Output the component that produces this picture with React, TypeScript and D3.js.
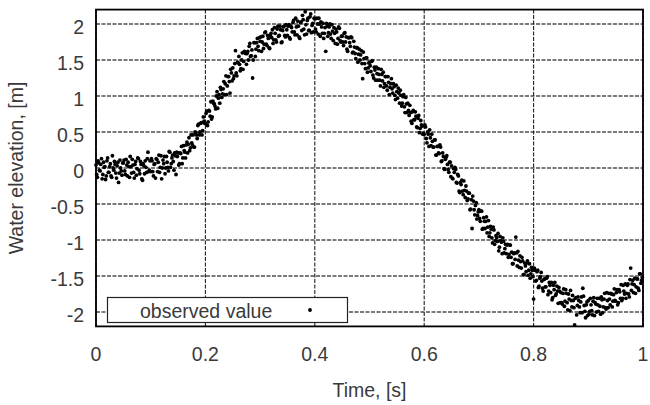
import React from "react";
import * as d3 from "d3";

// Water elevation record, one reading every SAMPLE_STEP seconds (each row spans 0.05 s)
const SAMPLE_STEP = 0.00125;
const elevation: number[] = [
  0.04, -0.09, -0.13, 0.1, 0.07, -0.03, -0.04, 0.05, 0.13, -0.15, -0.09, 0.08, 0.01, 0.02, -0.16, -0.11, 0.1, 0.14, -0.06, -0.06, 0.02, 0.06, -0.11, -0.13, 0.17, 0.0, -0.03, 0.09, 0.05, -0.07, -0.14, 0.03, 0.08, -0.2, -0.07, 0.11, 0.0, -0.04, -0.1, 0.07,
  0.07, 0.11, -0.04, -0.09, 0.12, 0.04, -0.11, 0.08, 0.02, -0.13, 0.16, 0.02, -0.07, 0.12, 0.04, -0.06, -0.14, 0.05, 0.09, -0.1, -0.01, 0.14, 0.13, -0.03, -0.08, 0.09, 0.05, -0.15, -0.17, 0.06, 0.03, -0.08, 0.1, 0.01, -0.06, 0.13, 0.22, -0.05, -0.03, 0.1,
  -0.05, 0.13, 0.1, -0.05, -0.11, 0.05, 0.06, -0.14, 0.13, 0.12, -0.05, 0.08, 0.18, -0.06, 0.01, 0.17, -0.15, 0.0, 0.11, 0.06, 0.16, -0.08, 0.0, 0.16, 0.08, 0.01, -0.04, 0.23, 0.22, 0.01, 0.06, 0.14, 0.18, 0.09, -0.03, 0.21, 0.17, -0.09, 0.22, 0.16,
  0.21, 0.04, 0.06, 0.21, 0.2, 0.3, 0.06, 0.14, 0.31, 0.24, 0.22, 0.14, 0.32, 0.36, 0.21, 0.33, 0.42, 0.24, 0.28, 0.46, 0.35, 0.32, 0.46, 0.29, 0.29, 0.5, 0.49, 0.46, 0.41, 0.59, 0.61, 0.46, 0.5, 0.62, 0.63, 0.46, 0.52, 0.71, 0.65, 0.62,
  0.62, 0.76, 0.79, 0.59, 0.64, 0.8, 0.79, 0.72, 0.92, 0.68, 0.71, 0.93, 0.9, 0.89, 0.86, 0.82, 1.0, 1.06, 0.83, 0.97, 1.02, 0.9, 1.12, 1.09, 0.98, 1.03, 1.1, 1.2, 1.02, 1.17, 1.28, 1.02, 1.14, 1.27, 1.27, 1.2, 1.04, 1.37, 1.32, 1.21,
  1.39, 1.24, 1.28, 1.45, 1.63, 1.32, 1.28, 1.47, 1.46, 1.55, 1.44, 1.35, 1.38, 1.5, 1.6, 1.37, 1.48, 1.62, 1.6, 1.59, 1.44, 1.59, 1.62, 1.5, 1.69, 1.73, 1.55, 1.56, 1.64, 1.25, 1.5, 1.74, 1.74, 1.55, 1.65, 1.74, 1.8, 1.69, 1.63, 1.81,
  1.76, 1.82, 1.62, 1.75, 1.83, 1.66, 1.72, 1.88, 1.89, 1.72, 1.7, 1.84, 1.8, 1.67, 1.66, 1.84, 1.87, 1.81, 1.92, 1.73, 1.78, 1.95, 1.87, 1.78, 1.75, 1.93, 1.97, 1.83, 1.84, 1.97, 1.92, 1.74, 1.75, 1.91, 1.96, 1.97, 1.84, 1.82, 1.99, 1.92,
  1.84, 1.97, 1.99, 1.81, 1.79, 1.97, 1.95, 1.89, 2.02, 2.05, 1.89, 1.85, 2.08, 1.96, 1.85, 2.04, 1.97, 1.82, 1.8, 2.02, 2.03, 1.91, 2.12, 2.06, 1.93, 1.85, 2.17, 1.99, 1.86, 2.05, 2.08, 1.91, 1.91, 2.1, 2.14, 1.88, 1.98, 2.01, 1.89, 2.08,
  2.07, 1.93, 1.89, 2.08, 2.0, 1.86, 2.08, 2.0, 1.83, 2.03, 1.96, 1.87, 2.01, 1.8, 1.87, 1.95, 1.62, 2.01, 1.97, 1.83, 1.88, 1.96, 2.0, 1.86, 1.8, 1.99, 1.9, 1.77, 1.95, 1.87, 1.73, 1.93, 1.89, 1.72, 1.8, 1.96, 1.94, 1.77, 1.75, 1.83,
  1.83, 1.75, 1.7, 1.87, 1.88, 1.75, 1.82, 1.65, 1.62, 1.81, 1.81, 1.74, 1.69, 1.82, 1.81, 1.6, 1.61, 1.76, 1.68, 1.59, 1.52, 1.67, 1.67, 1.47, 1.58, 1.65, 1.5, 1.57, 1.63, 1.45, 1.24, 1.61, 1.52, 1.45, 1.38, 1.53, 1.53, 1.33, 1.39, 1.46,
  1.47, 1.42, 1.34, 1.48, 1.49, 1.29, 1.25, 1.4, 1.36, 1.22, 1.4, 1.31, 1.22, 1.38, 1.3, 1.22, 1.14, 1.37, 1.3, 1.21, 1.33, 1.12, 1.17, 1.27, 1.27, 1.14, 1.08, 1.27, 1.19, 1.02, 1.12, 1.17, 1.24, 1.1, 1.04, 1.17, 1.13, 1.01, 0.95, 1.15,
  1.06, 0.97, 1.11, 1.04, 0.9, 1.08, 1.01, 0.86, 0.9, 0.99, 1.02, 0.85, 0.77, 0.98, 0.89, 0.77, 0.9, 0.8, 0.73, 0.87, 0.77, 0.65, 0.62, 0.78, 0.8, 0.67, 0.67, 0.78, 0.72, 0.57, 0.56, 0.69, 0.73, 0.49, 0.55, 0.66, 0.6, 0.58, 0.47, 0.48,
  0.47, 0.6, 0.57, 0.41, 0.35, 0.5, 0.47, 0.3, 0.53, 0.42, 0.31, 0.47, 0.37, 0.29, 0.29, 0.39, 0.39, 0.18, 0.18, 0.3, 0.3, 0.21, 0.2, 0.32, 0.29, 0.09, 0.1, 0.21, 0.16, -0.01, -0.02, 0.12, 0.15, 0.17, 0.05, -0.02, -0.06, 0.08, 0.08, -0.12,
  0.03, -0.14, -0.15, -0.01, -0.06, 0.01, -0.02, -0.2, -0.21, -0.09, -0.11, -0.32, -0.34, -0.2, -0.23, -0.17, -0.32, -0.37, -0.18, -0.31, -0.41, -0.25, -0.32, -0.45, -0.43, -0.35, -0.35, -0.58, -0.57, -0.44, -0.84, -0.39, -0.46, -0.58, -0.65, -0.52, -0.48, -0.71, -0.66, -0.61,
  -0.58, -0.7, -0.74, -0.6, -0.6, -0.85, -0.84, -0.69, -0.74, -0.84, -0.74, -0.68, -0.9, -0.82, -0.73, -0.95, -0.9, -0.81, -0.85, -0.97, -1.04, -0.82, -0.86, -1.06, -1.01, -0.94, -0.97, -1.02, -0.91, -1.15, -1.1, -0.95, -1.01, -1.03, -1.19, -0.97, -1.02, -1.18, -1.12, -1.06,
  -1.19, -1.07, -1.06, -1.24, -1.2, -1.07, -1.07, -1.24, -1.17, -1.33, -1.33, -1.19, -1.18, -1.27, -0.96, -1.18, -1.36, -1.16, -1.28, -1.38, -1.22, -1.3, -1.39, -1.24, -1.29, -1.48, -1.48, -1.32, -1.36, -1.44, -1.32, -1.29, -1.49, -1.42, -1.33, -1.53, -1.47, -1.38, -1.42, -1.51,
  -1.82, -1.39, -1.42, -1.57, -1.56, -1.44, -1.42, -1.66, -1.64, -1.53, -1.51, -1.45, -1.57, -1.67, -1.71, -1.55, -1.54, -1.65, -1.65, -1.53, -1.51, -1.76, -1.71, -1.59, -1.63, -1.73, -1.59, -1.83, -1.8, -1.63, -1.69, -1.59, -1.77, -1.75, -1.64, -1.71, -1.88, -1.66, -1.71, -1.87,
  -1.73, -1.87, -1.89, -1.74, -1.68, -1.92, -1.85, -1.69, -1.74, -1.87, -1.97, -1.75, -1.82, -1.98, -1.7, -1.84, -1.93, -1.77, -1.84, -1.94, -2.18, -1.81, -1.8, -2.04, -1.91, -1.79, -1.84, -1.93, -2.01, -1.86, -1.79, -2.01, -1.67, -1.78, -1.91, -1.99, -2.08, -1.9, -1.86, -2.05,
  -1.84, -2.03, -1.99, -1.81, -1.9, -1.98, -2.04, -1.85, -1.8, -2.05, -1.87, -1.89, -2.0, -1.81, -1.9, -1.99, -1.81, -1.92, -2.03, -1.79, -1.83, -2.01, -1.93, -1.82, -1.74, -1.94, -1.96, -1.73, -1.84, -1.94, -1.74, -1.82, -1.9, -1.74, -1.75, -1.93, -1.85, -1.76, -1.68, -1.84,
  -1.85, -1.73, -1.69, -1.9, -1.87, -1.69, -1.72, -1.81, -1.62, -1.84, -1.81, -1.63, -1.71, -1.75, -1.61, -1.81, -1.74, -1.63, -1.61, -1.75, -1.79, -1.55, -1.39, -1.7, -1.61, -1.56, -1.73, -1.62, -1.53, -1.74, -1.65, -1.54, -1.54, -1.67, -1.7, -1.47, -1.47, -1.6, -1.56, -1.52,
];

const xTicks = [0, 0.2, 0.4, 0.6, 0.8, 1];
const yTicks = [-2, -1.5, -1, -0.5, 0, 0.5, 1, 1.5, 2];
const xTitle = "Time, [s]";
const yTitle = "Water elevation, [m]";
const legendLabel = "observed value";

const W = 650;
const H = 405;
const plot = { left: 96, right: 643, top: 9.6, bottom: 326.4 };
const FONT = "'Liberation Sans', Arial, sans-serif";
const FONT_SIZE = 19.5;
const TEXT = "#3a3a3a";
const DOT_R = 1.9;

export default function App() {
  const x = d3.scaleLinear().domain([0, 1]).range([plot.left, plot.right]);
  const y = d3.scaleLinear().domain([-2.2, 2.2]).range([plot.bottom, plot.top]);
  const points = elevation.map((v, i) => ({ t: i * SAMPLE_STEP, v }));

  return (
    <svg
      width={W}
      height={H}
      viewBox={`0 0 ${W} ${H}`}
      style={{ position: "fixed", left: 0, top: 0, background: "#fff" }}
      fontFamily={FONT}
    >
      <rect x={0} y={0} width={W} height={H} fill="#fff" />

      {/* horizontal grid */}
      {yTicks.map((t) => (
        <line
          key={`hy${t}`}
          x1={plot.left}
          x2={plot.right}
          y1={y(t)}
          y2={y(t)}
          stroke="#7a7a7a"
          strokeWidth={1.8}
          strokeDasharray="4 1.5"
        />
      ))}
      {/* vertical grid */}
      {xTicks.map((t) => (
        <line
          key={`vx${t}`}
          x1={x(t)}
          x2={x(t)}
          y1={plot.top}
          y2={plot.bottom}
          stroke="#222"
          strokeWidth={1.1}
          strokeDasharray="4 1.5"
        />
      ))}

      {/* observations */}
      <g fill="#000">
        {points.map((p, i) => (
          <circle key={i} cx={x(p.t)} cy={y(p.v)} r={DOT_R} />
        ))}
      </g>

      {/* legend */}
      <rect x={107.5} y={297.5} width={240} height={25} fill="#fff" stroke="#222" strokeWidth={1.2} />
      <text x={140} y={318} fontSize={FONT_SIZE} fill={TEXT}>
        {legendLabel}
      </text>
      <circle cx={310} cy={310} r={DOT_R} fill="#000" />

      {/* frame */}
      <rect
        x={plot.left}
        y={plot.top}
        width={plot.right - plot.left}
        height={plot.bottom - plot.top}
        fill="none"
        stroke="#000"
        strokeWidth={1.8}
      />

      {/* y tick labels */}
      {yTicks.map((t) => (
        <text key={`ly${t}`} x={84} y={y(t) + 10} fontSize={FONT_SIZE} fill={TEXT} textAnchor="end">
          {String(t)}
        </text>
      ))}
      {/* x tick labels */}
      {xTicks.map((t) => (
        <text key={`lx${t}`} x={x(t)} y={361} fontSize={FONT_SIZE} fill={TEXT} textAnchor="middle">
          {String(t)}
        </text>
      ))}

      <text x={(plot.left + plot.right) / 2} y={397} fontSize={FONT_SIZE} fill={TEXT} textAnchor="middle">
        {xTitle}
      </text>
      <text
        transform={`translate(23, ${(plot.top + plot.bottom) / 2}) rotate(-90)`}
        fontSize={FONT_SIZE}
        fill={TEXT}
        textAnchor="middle"
      >
        {yTitle}
      </text>
    </svg>
  );
}
